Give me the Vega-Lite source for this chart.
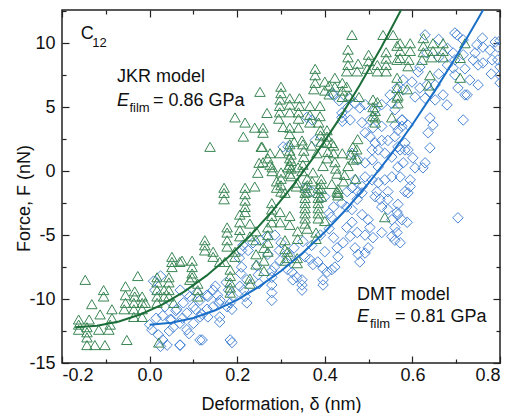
{
"$schema":"https://vega.github.io/schema/vega-lite/v6.json",
"autosize":{"type":"none"},
"padding":{"left":62,"top":10,"right":15,"bottom":50},
"width":438,"height":353,
"config":{"font":"Liberation Sans","view":{"stroke":"#222","strokeWidth":1.5},
"axis":{"labelFont":"Liberation Sans","labelFontSize":18,"labelColor":"#111","titleFont":"Liberation Sans","titleFontSize":18,"titleFontWeight":"normal","titleColor":"#111","tickColor":"#222","tickWidth":1.2,"grid":false,"domain":false}},
"datasets":{
"pts":[
{"s":"D","d":0.0,"f":-12.0},{"s":"D","d":0.009,"f":-8.6},{"s":"D","d":0.025,"f":-8.2},{"s":"D","d":0.012,"f":-9.3},{"s":"D","d":0.005,"f":-12.4},{"s":"D","d":0.02,"f":-12.8},{"s":"D","d":0.03,"f":-13.2},{"s":"D","d":0.04,"f":-13.6},{"s":"D","d":0.069,"f":-13.6},{"s":"D","d":0.03,"f":-11.3},{"s":"D","d":0.05,"f":-11.6},{"s":"D","d":0.06,"f":-10.9},{"s":"D","d":0.075,"f":-11.5},{"s":"D","d":0.015,"f":-11.5},{"s":"D","d":0.035,"f":-10.6},{"s":"D","d":0.045,"f":-12.5},{"s":"D","d":0.09,"f":-12.7},{"s":"D","d":0.085,"f":-9.6},{"s":"D","d":0.025,"f":-13.7},{"s":"D","d":0.115,"f":-13.2},{"s":"D","d":0.184,"f":-13.2},{"s":"D","d":0.054,"f":-12.2},{"s":"D","d":0.069,"f":-11.9},{"s":"D","d":0.085,"f":-11.1},{"s":"D","d":0.1,"f":-10.6},{"s":"D","d":0.115,"f":-10.1},{"s":"D","d":0.131,"f":-9.7},{"s":"D","d":0.145,"f":-9.3},{"s":"D","d":0.161,"f":-10.1},{"s":"D","d":0.177,"f":-10.6},{"s":"D","d":0.19,"f":-9.8},{"s":"D","d":0.206,"f":-9.0},{"s":"D","d":0.222,"f":-8.5},{"s":"D","d":0.062,"f":-10.8},{"s":"D","d":0.077,"f":-10.3},{"s":"D","d":0.092,"f":-9.8},{"s":"D","d":0.108,"f":-9.5},{"s":"D","d":0.047,"f":-11.6},{"s":"D","d":0.085,"f":-12.4},{"s":"D","d":0.1,"f":-11.9},{"s":"D","d":0.115,"f":-11.4},{"s":"D","d":0.131,"f":-10.8},{"s":"D","d":0.145,"f":-10.6},
{"s":"D","d":0.07,"f":-9.3},{"s":"D","d":0.07,"f":-13.6},{"s":"D","d":0.105,"f":-10.8},{"s":"D","d":0.12,"f":-11.2},{"s":"D","d":0.12,"f":-13.2},{"s":"D","d":0.133,"f":-9.8},{"s":"D","d":0.133,"f":-11.4},{"s":"D","d":0.15,"f":-9.0},{"s":"D","d":0.155,"f":-9.7},{"s":"D","d":0.158,"f":-10.3},{"s":"D","d":0.16,"f":-11.4},{"s":"D","d":0.16,"f":-11.8},{"s":"D","d":0.175,"f":-8.7},{"s":"D","d":0.18,"f":-9.3},{"s":"D","d":0.184,"f":-10.3},{"s":"D","d":0.188,"f":-10.8},{"s":"D","d":0.188,"f":-13.4},{"s":"D","d":0.21,"f":-6.2},{"s":"D","d":0.205,"f":-6.8},{"s":"D","d":0.213,"f":-5.8},{"s":"D","d":0.21,"f":-7.5},{"s":"D","d":0.208,"f":-8.0},{"s":"D","d":0.215,"f":-9.3},{"s":"D","d":0.218,"f":-9.8},{"s":"D","d":0.222,"f":-10.3},{"s":"D","d":0.245,"f":-7.4},{"s":"D","d":0.248,"f":-8.1},{"s":"D","d":0.25,"f":-8.8},{"s":"D","d":0.279,"f":-7.8},{"s":"D","d":0.279,"f":-8.3},{"s":"D","d":0.279,"f":-8.9},{"s":"D","d":0.279,"f":-9.5},{"s":"D","d":0.279,"f":-10.1},{"s":"D","d":0.225,"f":-6.2},{"s":"D","d":0.236,"f":-5.6},{"s":"D","d":0.253,"f":-5.4},{"s":"D","d":0.268,"f":-5.1},{"s":"D","d":0.285,"f":-7.5},{"s":"D","d":0.298,"f":-7.0},{"s":"D","d":0.27,"f":-6.5},{"s":"D","d":0.296,"f":-6.2},{"s":"D","d":0.286,"f":-5.0},{"s":"D","d":0.3,"f":-5.6},{"s":"D","d":0.315,"f":-7.7},{"s":"D","d":0.32,"f":-6.6},
{"s":"D","d":0.355,"f":-1.3},{"s":"D","d":0.37,"f":-1.6},{"s":"D","d":0.439,"f":-2.5},{"s":"D","d":0.45,"f":-2.8},{"s":"D","d":0.462,"f":-3.0},{"s":"D","d":0.474,"f":-2.2},{"s":"D","d":0.485,"f":-1.7},{"s":"D","d":0.485,"f":-3.4},{"s":"D","d":0.499,"f":-3.8},{"s":"D","d":0.503,"f":-4.4},{"s":"D","d":0.515,"f":-2.0},{"s":"D","d":0.526,"f":-2.2},{"s":"D","d":0.53,"f":-2.8},{"s":"D","d":0.53,"f":-4.8},{"s":"D","d":0.544,"f":-2.2},{"s":"D","d":0.544,"f":-3.0},{"s":"D","d":0.553,"f":-3.8},{"s":"D","d":0.553,"f":-5.1},{"s":"D","d":0.56,"f":-4.4},{"s":"D","d":0.567,"f":-2.6},{"s":"D","d":0.572,"f":-5.6},{"s":"D","d":0.355,"f":-6.7},{"s":"D","d":0.366,"f":-6.9},{"s":"D","d":0.373,"f":-7.3},{"s":"D","d":0.384,"f":-7.1},{"s":"D","d":0.396,"f":-7.6},{"s":"D","d":0.405,"f":-7.9},{"s":"D","d":0.416,"f":-7.7},{"s":"D","d":0.423,"f":-7.5},{"s":"D","d":0.43,"f":-6.7},{"s":"D","d":0.428,"f":-6.0},{"s":"D","d":0.442,"f":-5.6},{"s":"D","d":0.458,"f":-5.1},{"s":"D","d":0.469,"f":-6.0},{"s":"D","d":0.476,"f":-6.5},{"s":"D","d":0.48,"f":-7.1},{"s":"D","d":0.492,"f":-6.4},{"s":"D","d":0.499,"f":-6.0},{"s":"D","d":0.51,"f":-5.2},{"s":"D","d":0.45,"f":-4.4},{"s":"D","d":0.462,"f":-4.0},{"s":"D","d":0.474,"f":-4.8},{"s":"D","d":0.492,"f":-5.0},{"s":"D","d":0.325,"f":-7.9},{"s":"D","d":0.336,"f":-8.3},{"s":"D","d":0.348,"f":-8.5},{"s":"D","d":0.348,"f":-8.9},{"s":"D","d":0.348,"f":-9.3},{"s":"D","d":0.396,"f":-8.5},{"s":"D","d":0.396,"f":-8.9},{"s":"D","d":0.327,"f":-8.5},{"s":"D","d":0.33,"f":-6.0},{"s":"D","d":0.35,"f":-5.5},{"s":"D","d":0.37,"f":-5.8},{"s":"D","d":0.39,"f":-5.0},{"s":"D","d":0.41,"f":-4.5},{"s":"D","d":0.415,"f":-3.6},{"s":"D","d":0.42,"f":-5.2},{"s":"D","d":0.4,"f":-6.3},{"s":"D","d":0.4,"f":-2.0},{"s":"D","d":0.42,"f":-2.8},{"s":"D","d":0.41,"f":-3.3},
{"s":"D","d":0.419,"f":5.96},{"s":"D","d":0.439,"f":4.55},{"s":"D","d":0.458,"f":5.7},{"s":"D","d":0.469,"f":5.3},{"s":"D","d":0.48,"f":4.94},{"s":"D","d":0.492,"f":5.2},{"s":"D","d":0.515,"f":4.8},{"s":"D","d":0.53,"f":5.2},{"s":"D","d":0.553,"f":5.3},{"s":"D","d":0.56,"f":4.8},{"s":"D","d":0.549,"f":5.96},{"s":"D","d":0.579,"f":6.35},{"s":"D","d":0.579,"f":7.13},{"s":"D","d":0.565,"f":6.5},{"s":"D","d":0.359,"f":4.2},{"s":"D","d":0.371,"f":4.0},{"s":"D","d":0.378,"f":2.4},{"s":"D","d":0.316,"f":1.9},{"s":"D","d":0.439,"f":4.2},{"s":"D","d":0.44,"f":3.9},{"s":"D","d":0.458,"f":4.0},{"s":"D","d":0.485,"f":3.8},{"s":"D","d":0.503,"f":4.0},{"s":"D","d":0.51,"f":3.4},{"s":"D","d":0.53,"f":3.5},{"s":"D","d":0.56,"f":3.6},{"s":"D","d":0.576,"f":3.5},{"s":"D","d":0.577,"f":4.0},{"s":"D","d":0.492,"f":3.0},{"s":"D","d":0.503,"f":2.7},{"s":"D","d":0.515,"f":2.2},{"s":"D","d":0.53,"f":2.4},{"s":"D","d":0.544,"f":2.4},{"s":"D","d":0.56,"f":2.7},{"s":"D","d":0.508,"f":1.66},{"s":"D","d":0.522,"f":1.66},{"s":"D","d":0.537,"f":1.4},{"s":"D","d":0.553,"f":1.1},{"s":"D","d":0.567,"f":1.9},{"s":"D","d":0.583,"f":1.66},{"s":"D","d":0.462,"f":1.4},{"s":"D","d":0.476,"f":0.88},{"s":"D","d":0.492,"f":0.65},{"s":"D","d":0.508,"f":0.88},{"s":"D","d":0.522,"f":0.33},{"s":"D","d":0.492,"f":-0.45},{"s":"D","d":0.508,"f":-0.68},{"s":"D","d":0.522,"f":-0.9},{"s":"D","d":0.537,"f":-0.68},{"s":"D","d":0.553,"f":-0.45},{"s":"D","d":0.567,"f":0.33},{"s":"D","d":0.572,"f":-0.45},{"s":"D","d":0.469,"f":-0.68},{"s":"D","d":0.485,"f":-1.2},{"s":"D","d":0.462,"f":-1.3},{"s":"D","d":0.476,"f":-1.6},{"s":"D","d":0.451,"f":-1.6},{"s":"D","d":0.519,"f":-1.6},{"s":"D","d":0.544,"f":-1.6},{"s":"D","d":0.417,"f":6.1},{"s":"D","d":0.433,"f":5.5},{"s":"D","d":0.453,"f":5.0},{"s":"D","d":0.305,"f":1.9},
{"s":"D","d":0.629,"f":10.65},{"s":"D","d":0.633,"f":9.24},{"s":"D","d":0.617,"f":8.15},{"s":"D","d":0.613,"f":7.76},{"s":"D","d":0.702,"f":10.65},{"s":"D","d":0.716,"f":10.26},{"s":"D","d":0.693,"f":9.24},{"s":"D","d":0.697,"f":8.7},{"s":"D","d":0.693,"f":8.07},{"s":"D","d":0.697,"f":7.52},{"s":"D","d":0.704,"f":6.5},{"s":"D","d":0.725,"f":5.96},{"s":"D","d":0.731,"f":7.13},{"s":"D","d":0.747,"f":9.87},{"s":"D","d":0.761,"f":9.7},{"s":"D","d":0.777,"f":9.47},{"s":"D","d":0.789,"f":10.1},{"s":"D","d":0.795,"f":9.7},{"s":"D","d":0.739,"f":8.7},{"s":"D","d":0.75,"f":8.3},{"s":"D","d":0.761,"f":8.46},{"s":"D","d":0.782,"f":8.7},{"s":"D","d":0.8,"f":8.15},{"s":"D","d":0.716,"f":9.1},{"s":"D","d":0.743,"f":9.24},{"s":"D","d":0.75,"f":6.74},{"s":"D","d":0.716,"f":4.0},{"s":"D","d":0.599,"f":6.97},{"s":"D","d":0.617,"f":6.5},{"s":"D","d":0.633,"f":6.74},{"s":"D","d":0.606,"f":5.8},{"s":"D","d":0.629,"f":5.7},{"s":"D","d":0.652,"f":5.57},{"s":"D","d":0.67,"f":5.96},{"s":"D","d":0.679,"f":5.18},{"s":"D","d":0.64,"f":6.2},{"s":"D","d":0.652,"f":6.74},{"s":"D","d":0.64,"f":4.16},{"s":"D","d":0.636,"f":3.0},{"s":"D","d":0.64,"f":1.82},{"s":"D","d":0.647,"f":3.6},{"s":"D","d":0.576,"f":4.0},{"s":"D","d":0.59,"f":3.6},{"s":"D","d":0.567,"f":3.2},{"s":"D","d":0.583,"f":2.2},{"s":"D","d":0.572,"f":1.66},{"s":"D","d":0.59,"f":1.66},{"s":"D","d":0.601,"f":1.04},{"s":"D","d":0.579,"f":0.65},{"s":"D","d":0.606,"f":0.26},{"s":"D","d":0.624,"f":0.26},{"s":"D","d":0.629,"f":0.65},{"s":"D","d":0.595,"f":-0.68},{"s":"D","d":0.595,"f":-1.2},{"s":"D","d":0.583,"f":-1.6},{"s":"D","d":0.795,"f":8.7},{"s":"D","d":0.8,"f":6.9},{"s":"D","d":0.697,"f":10.8},{"s":"D","d":0.72,"f":5.96},{"s":"D","d":0.59,"f":-1.7},{"s":"D","d":0.565,"f":-3.2},{"s":"D","d":0.567,"f":-3.4},{"s":"D","d":0.576,"f":-3.8},{"s":"D","d":0.588,"f":-4.0},{"s":"D","d":0.565,"f":-4.8},{"s":"D","d":0.56,"f":-5.4},{"s":"D","d":0.704,"f":-3.65},{"s":"D","d":0.66,"f":10.3},{"s":"D","d":0.68,"f":9.6},{"s":"D","d":0.66,"f":8.9},{"s":"D","d":0.68,"f":8.3},{"s":"D","d":0.66,"f":7.6},{"s":"D","d":0.72,"f":8.0},{"s":"D","d":0.76,"f":10.4},{"s":"D","d":0.78,"f":7.6},{"s":"D","d":0.8,"f":10.2},{"s":"D","d":0.8,"f":7.5},
{"s":"J","d":-0.162,"f":-11.6},{"s":"J","d":-0.162,"f":-12.0},{"s":"J","d":-0.162,"f":-12.4},{"s":"J","d":-0.147,"f":-8.5},{"s":"J","d":-0.143,"f":-12.2},{"s":"J","d":-0.143,"f":-12.6},{"s":"J","d":-0.143,"f":-13.0},{"s":"J","d":-0.143,"f":-13.6},{"s":"J","d":-0.138,"f":-11.6},{"s":"J","d":-0.132,"f":-10.4},{"s":"J","d":-0.125,"f":-13.6},{"s":"J","d":-0.116,"f":-12.4},{"s":"J","d":-0.113,"f":-11.2},{"s":"J","d":-0.105,"f":-9.3},{"s":"J","d":-0.105,"f":-9.8},{"s":"J","d":-0.102,"f":-13.6},{"s":"J","d":-0.093,"f":-12.4},{"s":"J","d":-0.086,"f":-10.8},{"s":"J","d":-0.086,"f":-11.5},{"s":"J","d":-0.09,"f":-12.0},{"s":"J","d":-0.055,"f":-9.0},{"s":"J","d":-0.055,"f":-9.7},{"s":"J","d":-0.055,"f":-10.3},{"s":"J","d":-0.058,"f":-10.8},{"s":"J","d":-0.052,"f":-13.2},{"s":"J","d":-0.036,"f":-10.3},{"s":"J","d":-0.036,"f":-10.8},{"s":"J","d":-0.036,"f":-11.4},{"s":"J","d":-0.034,"f":-9.4},{"s":"J","d":-0.034,"f":-9.8},{"s":"J","d":-0.027,"f":-8.2},{"s":"J","d":-0.017,"f":-9.8},{"s":"J","d":-0.017,"f":-10.3},{"s":"J","d":-0.017,"f":-10.8},{"s":"J","d":-0.017,"f":-11.4},{"s":"J","d":-0.01,"f":-10.3},{"s":"J","d":0.017,"f":-8.3},{"s":"J","d":0.017,"f":-8.7},{"s":"J","d":0.017,"f":-9.3},{"s":"J","d":0.017,"f":-9.8},{"s":"J","d":0.017,"f":-10.3},{"s":"J","d":0.021,"f":-13.4},{"s":"J","d":0.044,"f":-8.3},{"s":"J","d":0.044,"f":-8.7},{"s":"J","d":0.044,"f":-9.3},{"s":"J","d":0.044,"f":-9.8},{"s":"J","d":0.033,"f":-9.3},{"s":"J","d":0.033,"f":-9.8},{"s":"J","d":0.051,"f":-6.7},{"s":"J","d":0.051,"f":-7.1},{"s":"J","d":0.051,"f":-7.5},{"s":"J","d":0.069,"f":-7.1},{"s":"J","d":0.055,"f":-10.3},
{"s":"J","d":0.074,"f":-7.0},{"s":"J","d":0.097,"f":-7.0},{"s":"J","d":0.097,"f":-7.5},{"s":"J","d":0.097,"f":-8.0},{"s":"J","d":0.097,"f":-8.3},{"s":"J","d":0.092,"f":-8.5},{"s":"J","d":0.11,"f":-8.8},{"s":"J","d":0.11,"f":-9.3},{"s":"J","d":0.11,"f":-9.8},{"s":"J","d":0.126,"f":-5.4},{"s":"J","d":0.126,"f":-5.8},{"s":"J","d":0.126,"f":-6.2},{"s":"J","d":0.145,"f":-6.3},{"s":"J","d":0.145,"f":-6.7},{"s":"J","d":0.16,"f":-7.1},{"s":"J","d":0.172,"f":-7.1},{"s":"J","d":0.177,"f":-4.4},{"s":"J","d":0.177,"f":-4.8},{"s":"J","d":0.177,"f":-5.4},{"s":"J","d":0.177,"f":-5.9},{"s":"J","d":0.184,"f":-7.7},{"s":"J","d":0.184,"f":-8.2},{"s":"J","d":0.184,"f":-8.7},{"s":"J","d":0.184,"f":-9.1},{"s":"J","d":0.184,"f":-9.5},{"s":"J","d":0.206,"f":-3.4},{"s":"J","d":0.206,"f":-4.0},{"s":"J","d":0.206,"f":-4.6},{"s":"J","d":0.206,"f":-5.1},{"s":"J","d":0.195,"f":-6.3},{"s":"J","d":0.195,"f":-6.7},{"s":"J","d":0.229,"f":-4.1},{"s":"J","d":0.229,"f":-5.1},{"s":"J","d":0.229,"f":-8.4},{"s":"J","d":0.229,"f":-8.8},{"s":"J","d":0.243,"f":-4.7},{"s":"J","d":0.243,"f":-5.4},{"s":"J","d":0.243,"f":-6.5},{"s":"J","d":0.243,"f":-7.3},{"s":"J","d":0.261,"f":-6.0},{"s":"J","d":0.261,"f":-7.0},{"s":"J","d":0.261,"f":-7.8},{"s":"J","d":0.279,"f":-2.5},{"s":"J","d":0.279,"f":-3.0},{"s":"J","d":0.279,"f":-3.5},{"s":"J","d":0.279,"f":-4.0},{"s":"J","d":0.27,"f":-4.4},{"s":"J","d":0.27,"f":-5.0},{"s":"J","d":0.27,"f":-5.6},{"s":"J","d":0.27,"f":-6.3},{"s":"J","d":0.298,"f":-3.2},{"s":"J","d":0.298,"f":-4.0},{"s":"J","d":0.309,"f":-5.4},{"s":"J","d":0.309,"f":-6.1},{"s":"J","d":0.309,"f":-7.0},{"s":"J","d":0.17,"f":-1.3},{"s":"J","d":0.17,"f":-1.7},{"s":"J","d":0.17,"f":-2.2},{"s":"J","d":0.218,"f":-1.3},{"s":"J","d":0.218,"f":-1.8},{"s":"J","d":0.218,"f":-2.3},{"s":"J","d":0.218,"f":-2.8},{"s":"J","d":0.218,"f":-3.2},
{"s":"J","d":0.355,"f":-1.3},{"s":"J","d":0.355,"f":-1.7},{"s":"J","d":0.355,"f":-2.1},{"s":"J","d":0.355,"f":-2.5},{"s":"J","d":0.355,"f":-2.9},{"s":"J","d":0.355,"f":-3.3},{"s":"J","d":0.355,"f":-3.7},{"s":"J","d":0.355,"f":-4.1},{"s":"J","d":0.385,"f":-1.3},{"s":"J","d":0.385,"f":-1.7},{"s":"J","d":0.385,"f":-2.1},{"s":"J","d":0.385,"f":-2.5},{"s":"J","d":0.385,"f":-2.9},{"s":"J","d":0.385,"f":-3.3},{"s":"J","d":0.385,"f":-3.7},{"s":"J","d":0.32,"f":-3.5},{"s":"J","d":0.32,"f":-4.2},{"s":"J","d":0.338,"f":-4.7},{"s":"J","d":0.338,"f":-5.3},{"s":"J","d":0.36,"f":-4.5},{"s":"J","d":0.38,"f":-4.8},{"s":"J","d":0.38,"f":-5.3},{"s":"J","d":0.4,"f":-3.9},{"s":"J","d":0.315,"f":-6.3},{"s":"J","d":0.315,"f":-6.8},{"s":"J","d":0.337,"f":-6.8},{"s":"J","d":0.337,"f":-7.2},{"s":"J","d":0.43,"f":-1.7},{"s":"J","d":0.537,"f":-3.6},
{"s":"J","d":0.138,"f":1.9},{"s":"J","d":0.195,"f":4.2},{"s":"J","d":0.218,"f":3.8},{"s":"J","d":0.214,"f":2.7},{"s":"J","d":0.24,"f":3.4},{"s":"J","d":0.252,"f":6.2},{"s":"J","d":0.259,"f":3.4},{"s":"J","d":0.259,"f":3.0},{"s":"J","d":0.255,"f":1.9},{"s":"J","d":0.25,"f":0.65},{"s":"J","d":0.247,"f":-0.13},{"s":"J","d":0.268,"f":4.55},{"s":"J","d":0.3,"f":6.6},{"s":"J","d":0.3,"f":6.1},{"s":"J","d":0.298,"f":5.6},{"s":"J","d":0.297,"f":5.1},{"s":"J","d":0.297,"f":4.6},{"s":"J","d":0.295,"f":4.1},{"s":"J","d":0.27,"f":1.0},{"s":"J","d":0.275,"f":0.5},{"s":"J","d":0.28,"f":0.0},{"s":"J","d":0.3,"f":-0.1},{"s":"J","d":0.3,"f":-0.6},{"s":"J","d":0.3,"f":-1.1},{"s":"J","d":0.3,"f":-1.6},{"s":"J","d":0.305,"f":3.45},{"s":"J","d":0.32,"f":5.7},{"s":"J","d":0.32,"f":5.2},{"s":"J","d":0.32,"f":4.6},{"s":"J","d":0.32,"f":2.1},{"s":"J","d":0.32,"f":1.6},{"s":"J","d":0.32,"f":1.0},{"s":"J","d":0.32,"f":0.5},{"s":"J","d":0.32,"f":-0.2},
{"s":"J","d":0.462,"f":10.65},{"s":"J","d":0.533,"f":10.65},{"s":"J","d":0.556,"f":10.65},{"s":"J","d":0.453,"f":9.5},{"s":"J","d":0.453,"f":8.9},{"s":"J","d":0.453,"f":8.3},{"s":"J","d":0.45,"f":7.8},{"s":"J","d":0.476,"f":8.4},{"s":"J","d":0.474,"f":7.8},{"s":"J","d":0.478,"f":5.8},{"s":"J","d":0.5,"f":9.1},{"s":"J","d":0.5,"f":8.6},{"s":"J","d":0.497,"f":8.0},{"s":"J","d":0.51,"f":5.6},{"s":"J","d":0.52,"f":5.4},{"s":"J","d":0.515,"f":4.7},{"s":"J","d":0.515,"f":4.2},{"s":"J","d":0.515,"f":3.8},{"s":"J","d":0.52,"f":8.3},{"s":"J","d":0.52,"f":7.8},{"s":"J","d":0.54,"f":9.3},{"s":"J","d":0.54,"f":8.8},{"s":"J","d":0.54,"f":8.3},{"s":"J","d":0.54,"f":7.8},{"s":"J","d":0.565,"f":9.8},{"s":"J","d":0.565,"f":8.7},{"s":"J","d":0.567,"f":5.9},{"s":"J","d":0.567,"f":5.3},{"s":"J","d":0.378,"f":8.0},{"s":"J","d":0.378,"f":7.5},{"s":"J","d":0.378,"f":6.9},{"s":"J","d":0.375,"f":6.4},{"s":"J","d":0.4,"f":6.3},{"s":"J","d":0.41,"f":6.7},{"s":"J","d":0.41,"f":6.0},{"s":"J","d":0.44,"f":6.3},{"s":"J","d":0.44,"f":5.8},{"s":"J","d":0.45,"f":6.6},{"s":"J","d":0.455,"f":5.9},{"s":"J","d":0.32,"f":3.4},{"s":"J","d":0.32,"f":2.9},{"s":"J","d":0.342,"f":5.7},{"s":"J","d":0.342,"f":5.1},{"s":"J","d":0.34,"f":4.6},{"s":"J","d":0.34,"f":4.1},{"s":"J","d":0.34,"f":3.4},{"s":"J","d":0.366,"f":5.1},{"s":"J","d":0.366,"f":4.4},{"s":"J","d":0.366,"f":3.8},{"s":"J","d":0.389,"f":5.1},{"s":"J","d":0.389,"f":4.3},{"s":"J","d":0.386,"f":3.8},{"s":"J","d":0.405,"f":3.2},{"s":"J","d":0.405,"f":2.7},{"s":"J","d":0.405,"f":2.2},{"s":"J","d":0.407,"f":1.5},{"s":"J","d":0.405,"f":1.0},{"s":"J","d":0.39,"f":3.2},{"s":"J","d":0.39,"f":2.8},{"s":"J","d":0.392,"f":2.3},{"s":"J","d":0.33,"f":2.3},{"s":"J","d":0.35,"f":2.1},{"s":"J","d":0.352,"f":1.6},{"s":"J","d":0.352,"f":1.1},{"s":"J","d":0.35,"f":0.5},{"s":"J","d":0.348,"f":0.0},{"s":"J","d":0.323,"f":1.3},{"s":"J","d":0.323,"f":0.8},{"s":"J","d":0.323,"f":0.2},{"s":"J","d":0.323,"f":-0.4},{"s":"J","d":0.42,"f":2.0},{"s":"J","d":0.42,"f":1.4},{"s":"J","d":0.423,"f":0.7},{"s":"J","d":0.425,"f":0.2},{"s":"J","d":0.428,"f":-0.2},{"s":"J","d":0.445,"f":-0.3},{"s":"J","d":0.443,"f":-0.8},{"s":"J","d":0.46,"f":1.3},{"s":"J","d":0.465,"f":0.9},{"s":"J","d":0.47,"f":-0.6},{"s":"J","d":0.475,"f":2.5},{"s":"J","d":0.473,"f":1.7},{"s":"J","d":0.473,"f":1.0},{"s":"J","d":0.51,"f":5.0},{"s":"J","d":0.51,"f":4.3},{"s":"J","d":0.553,"f":4.2},{"s":"J","d":0.392,"f":-0.6},{"s":"J","d":0.392,"f":-1.0},{"s":"J","d":0.392,"f":-1.4},{"s":"J","d":0.392,"f":-2.0},{"s":"J","d":0.43,"f":-1.4},{"s":"J","d":0.43,"f":-1.9},{"s":"J","d":0.36,"f":-0.6},{"s":"J","d":0.36,"f":-1.1},{"s":"J","d":0.36,"f":-1.6},{"s":"J","d":0.335,"f":-1.2},{"s":"J","d":0.257,"f":1.9},{"s":"J","d":0.275,"f":1.4},{"s":"J","d":0.298,"f":1.4},{"s":"J","d":0.348,"f":2.4},{"s":"J","d":0.37,"f":2.0},{"s":"J","d":0.382,"f":1.4},{"s":"J","d":0.416,"f":2.2},{"s":"J","d":0.44,"f":1.4},{"s":"J","d":0.464,"f":1.9},{"s":"J","d":0.259,"f":0.7},{"s":"J","d":0.28,"f":0.3},{"s":"J","d":0.316,"f":0.3},{"s":"J","d":0.339,"f":0.3},{"s":"J","d":0.373,"f":-0.1},{"s":"J","d":0.396,"f":0.4},{"s":"J","d":0.453,"f":0.4},{"s":"J","d":0.24,"f":-1.2},{"s":"J","d":0.29,"f":-0.8},{"s":"J","d":0.29,"f":-1.3},{"s":"J","d":0.309,"f":-1.7},{"s":"J","d":0.337,"f":-0.9},{"s":"J","d":0.371,"f":-0.8},{"s":"J","d":0.416,"f":-1.0},{"s":"J","d":0.428,"f":-1.6},{"s":"J","d":0.4,"f":7.0},{"s":"J","d":0.423,"f":7.3},{"s":"J","d":0.423,"f":6.6},{"s":"J","d":0.44,"f":6.9},
{"s":"J","d":0.572,"f":10.0},{"s":"J","d":0.572,"f":9.4},{"s":"J","d":0.572,"f":8.85},{"s":"J","d":0.595,"f":10.0},{"s":"J","d":0.595,"f":9.4},{"s":"J","d":0.592,"f":8.7},{"s":"J","d":0.59,"f":8.2},{"s":"J","d":0.625,"f":10.4},{"s":"J","d":0.625,"f":9.8},{"s":"J","d":0.625,"f":9.3},{"s":"J","d":0.622,"f":8.7},{"s":"J","d":0.647,"f":10.0},{"s":"J","d":0.647,"f":9.4},{"s":"J","d":0.644,"f":8.9},{"s":"J","d":0.67,"f":10.0},{"s":"J","d":0.67,"f":9.4},{"s":"J","d":0.67,"f":8.9},{"s":"J","d":0.64,"f":7.5},{"s":"J","d":0.637,"f":6.7},{"s":"J","d":0.72,"f":10.0},{"s":"J","d":0.709,"f":8.85},{"s":"J","d":0.709,"f":7.3},{"s":"J","d":0.565,"f":7.3},{"s":"J","d":0.565,"f":6.5},{"s":"J","d":0.565,"f":5.75},{"s":"J","d":0.588,"f":6.4}
],
"jkr":[{"d":-0.17,"f":-12.2},{"d":-0.12,"f":-12.09},{"d":-0.07,"f":-11.75},{"d":-0.02,"f":-11.19},{"d":0.03,"f":-10.41},{"d":0.08,"f":-9.4},{"d":0.13,"f":-8.17},{"d":0.18,"f":-6.71},{"d":0.23,"f":-5.03},{"d":0.28,"f":-3.13},{"d":0.33,"f":-1.0},{"d":0.38,"f":1.35},{"d":0.43,"f":3.93},{"d":0.48,"f":6.73},{"d":0.53,"f":9.75},{"d":0.574,"f":12.6},{"d":0.58,"f":13.0}],
"dmt":[{"d":0.0,"f":-12.0},{"d":0.05,"f":-11.86},{"d":0.1,"f":-11.48},{"d":0.15,"f":-10.88},{"d":0.2,"f":-10.06},{"d":0.25,"f":-9.03},{"d":0.3,"f":-7.81},{"d":0.35,"f":-6.38},{"d":0.4,"f":-4.76},{"d":0.45,"f":-2.94},{"d":0.5,"f":-0.93},{"d":0.55,"f":1.26},{"d":0.6,"f":3.65},{"d":0.65,"f":6.22},{"d":0.7,"f":8.97},{"d":0.75,"f":11.91},{"d":0.765,"f":12.83}],
"t18":[{"t":"JKR model","d":-0.0744,"f":6.975},{"t":"= 0.86 GPa","d":0.0078,"f":5.1},{"t":"DMT model","d":0.4735,"f":-10.06},{"t":"= 0.81 GPa","d":0.56,"f":-11.83},{"t":"C","d":-0.157,"f":10.31}],
"tit":[{"t":"E","d":-0.0744,"f":5.1},{"t":"E","d":0.4735,"f":-11.83}],
"t13":[{"t":"film","d":-0.046,"f":4.63},{"t":"film","d":0.503,"f":-12.24},{"t":"12","d":-0.131,"f":9.73}]
},
"resolve":{"axis":{"x":"independent","y":"independent"}},
"layer":[
{"data":{"name":"pts"},
"mark":{"type":"point","filled":false,"size":110,"strokeWidth":1,"opacity":1,"clip":true},
"encoding":{
"x":{"field":"d","type":"quantitative","scale":{"domain":[-0.2,0.8],"nice":false,"zero":false},
"axis":{"orient":"bottom","values":[-0.2,-0.1,0,0.1,0.2,0.3,0.4,0.5,0.6,0.7,0.8],"labelExpr":"abs(round(datum.value*10))%2==0 ? replace(format(datum.value,'.1f'),'\u2212','-') : ''","tickSize":{"condition":{"test":"abs(round(datum.value*10))%2==0","value":-7},"value":-4},"labelPadding":10,"title":"Deformation, δ (nm)","titlePadding":11}},
"y":{"field":"f","type":"quantitative","scale":{"domain":[-15,12.6],"nice":false,"zero":false},
"axis":{"orient":"left","values":[-15,-12.5,-10,-7.5,-5,-2.5,0,2.5,5,7.5,10,12.5],"labelExpr":"datum.value%5==0 ? replace(format(datum.value,'d'),'\u2212','-') : ''","tickSize":{"condition":{"test":"datum.value%5==0","value":-7},"value":-4},"labelPadding":14,"title":"Force, F (nN)","titleX":-38,"titleY":188,"titleBaseline":"middle","titleAlign":"center","titleAngle":270}},
"color":{"field":"s","type":"nominal","scale":{"domain":["D","J"],"range":["#4a86d4","#3a8654"]},"legend":null},
"shape":{"field":"s","type":"nominal","scale":{"domain":["D","J"],"range":["diamond","triangle-up"]},"legend":null}}},
{"data":{"name":"jkr"},
"mark":{"type":"line","color":"#1b6e38","strokeWidth":2,"clip":true},
"encoding":{
"x":{"field":"d","type":"quantitative","scale":{"domain":[-0.2,0.8],"nice":false,"zero":false},
"axis":{"orient":"top","values":[-0.2,-0.1,0,0.1,0.2,0.3,0.4,0.5,0.6,0.7,0.8],"labels":false,"title":null,"tickSize":{"condition":{"test":"abs(round(datum.value*10))%2==0","value":-7},"value":-4}}},
"y":{"field":"f","type":"quantitative","scale":{"domain":[-15,12.6],"nice":false,"zero":false},
"axis":{"orient":"right","values":[-15,-12.5,-10,-7.5,-5,-2.5,0,2.5,5,7.5,10,12.5],"labels":false,"title":null,"tickSize":{"condition":{"test":"datum.value%5==0","value":-7},"value":-4}}}}},
{"data":{"name":"dmt"},
"mark":{"type":"line","color":"#1a6fc7","strokeWidth":2,"clip":true},
"encoding":{
"x":{"field":"d","type":"quantitative","scale":{"domain":[-0.2,0.8],"nice":false,"zero":false},"axis":null},
"y":{"field":"f","type":"quantitative","scale":{"domain":[-15,12.6],"nice":false,"zero":false},"axis":null}}},
{"data":{"name":"t18"},
"mark":{"type":"text","align":"left","baseline":"alphabetic","fontSize":18,"font":"Liberation Sans","color":"#111"},
"encoding":{"x":{"field":"d","type":"quantitative","axis":null},"y":{"field":"f","type":"quantitative","axis":null},"text":{"field":"t"}}},
{"data":{"name":"tit"},
"mark":{"type":"text","align":"left","baseline":"alphabetic","fontSize":18,"fontStyle":"italic","font":"Liberation Sans","color":"#111"},
"encoding":{"x":{"field":"d","type":"quantitative","axis":null},"y":{"field":"f","type":"quantitative","axis":null},"text":{"field":"t"}}},
{"data":{"name":"t13"},
"mark":{"type":"text","align":"left","baseline":"alphabetic","fontSize":13,"font":"Liberation Sans","color":"#111"},
"encoding":{"x":{"field":"d","type":"quantitative","axis":null},"y":{"field":"f","type":"quantitative","axis":null},"text":{"field":"t"}}}
]
}
